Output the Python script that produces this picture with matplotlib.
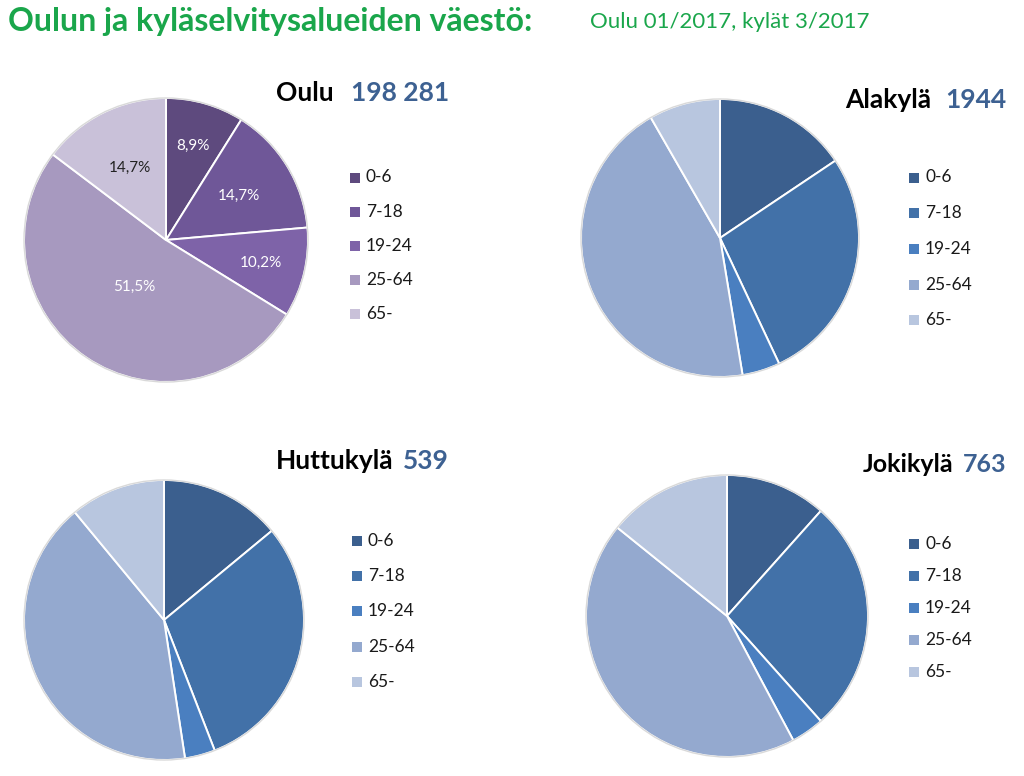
import matplotlib
matplotlib.use("Agg")
import matplotlib.pyplot as plt
import numpy as np
from matplotlib.patches import Rectangle

plt.rcParams['font.family'] = ['Lato', 'DejaVu Sans']

W, H = 1024, 776

categories = ["0-6", "7-18", "19-24", "25-64", "65-"]
oulu_values = [8.9, 14.7, 10.2, 51.5, 14.7]
alakyla_values = [15.6, 27.4, 4.4, 44.3, 8.3]
huttukyla_values = [14.0, 30.1, 3.5, 41.4, 11.0]
jokikyla_values = [11.6, 26.8, 3.8, 43.6, 14.2]

names = ["Oulu", "Alakylä", "Huttukylä", "Jokikylä"]
populations = ["198 281", "1944", "539", "763"]

title = "Oulun ja kyläselvitysalueiden väestö:"
subtitle = "Oulu 01/2017, kylät 3/2017"

purples = ["#5e4a7e", "#6f5798", "#7e63a8", "#a799bf", "#c9c1d9"]
blues = ["#3b5f8e", "#4271a8", "#4a7fc0", "#94a9cf", "#b8c6df"]

fig = plt.figure(figsize=(W / 100, H / 100), dpi=100)
fig.patch.set_facecolor("white")


def fx(x):
    return x / W


def fy(y):
    return 1 - y / H


panels = [
    dict(values=oulu_values, colors=purples, c=(166, 240), r=142,
         lx=350, ly=177.5, step=34.2, name_x=334, num_x=449, ty=93, tfs=19,
         labels=True),
    dict(values=alakyla_values, colors=blues, c=(720, 238), r=139,
         lx=909, ly=177.5, step=35.7, name_x=931, num_x=1006, ty=100, tfs=19,
         labels=False),
    dict(values=huttukyla_values, colors=blues, c=(164, 620), r=140,
         lx=352, ly=541, step=35.2, name_x=394, num_x=449, ty=461, tfs=19,
         labels=False),
    dict(values=jokikyla_values, colors=blues, c=(727, 616), r=141,
         lx=909, ly=544, step=32.0, name_x=953, num_x=1006, ty=464, tfs=18,
         labels=False),
]

label_dist = [0.69, 0.60, 0.69, 0.40, 0.57]
label_colors = ["white", "white", "white", "white", "#222222"]

for p, name, pop in zip(panels, names, populations):
    cx, cy = p["c"]
    r = p["r"]
    ax = fig.add_axes([fx(cx - r), fy(cy + r), fx(2 * r), (2 * r) / H])
    wedges, _ = ax.pie(p["values"], colors=p["colors"], startangle=90,
                       counterclock=False, radius=1.0,
                       wedgeprops=dict(edgecolor="white", linewidth=1.4))
    for w_ in wedges:
        w_.set_clip_on(False)
    ax.set_xlim(-1.0, 1.0)
    ax.set_ylim(-1.0, 1.0)
    ax.set_axis_off()
    ring = plt.Circle((0, 0), 1.0, fill=False, edgecolor="#d9d9d9", linewidth=1.0)
    ring.set_clip_on(False)
    ax.add_patch(ring)
    if p["labels"]:
        total = sum(p["values"])
        cum = 0.0
        for v, d, lc in zip(p["values"], label_dist, label_colors):
            mid = (cum + v / 2) / total
            ang = np.deg2rad(90 - 360 * mid)
            ax.text(d * np.cos(ang), d * np.sin(ang),
                    f"{v:.1f}%".replace(".", ","), ha="center", va="center",
                    fontsize=11, color=lc)
            cum += v
    for i, (cat, col) in enumerate(zip(categories, p["colors"])):
        yy = p["ly"] + i * p["step"]
        fig.patches.append(Rectangle((fx(p["lx"]), fy(yy + 5)), fx(10), 10 / H,
                                     transform=fig.transFigure, facecolor=col,
                                     edgecolor="none"))
        fig.text(fx(p["lx"] + 16), fy(yy), cat, ha="left", va="center",
                 fontsize=12.5, color="#1a1a1a")
    fig.text(fx(p["name_x"]), fy(p["ty"]), name, ha="right", va="center",
             fontsize=p["tfs"], fontweight="bold", color="black")
    fig.text(fx(p["num_x"]), fy(p["ty"]), pop, ha="right", va="center",
             fontsize=p["tfs"], fontweight="bold", color="#3d6192")

fig.text(fx(8), fy(22), title, ha="left", va="center", fontsize=23,
         fontweight="bold", color="#1aa64b")
fig.text(fx(590), fy(22), subtitle, ha="left", va="center", fontsize=16,
         color="#1aa64b")

fig.savefig("out.png", dpi=100, facecolor="white")
